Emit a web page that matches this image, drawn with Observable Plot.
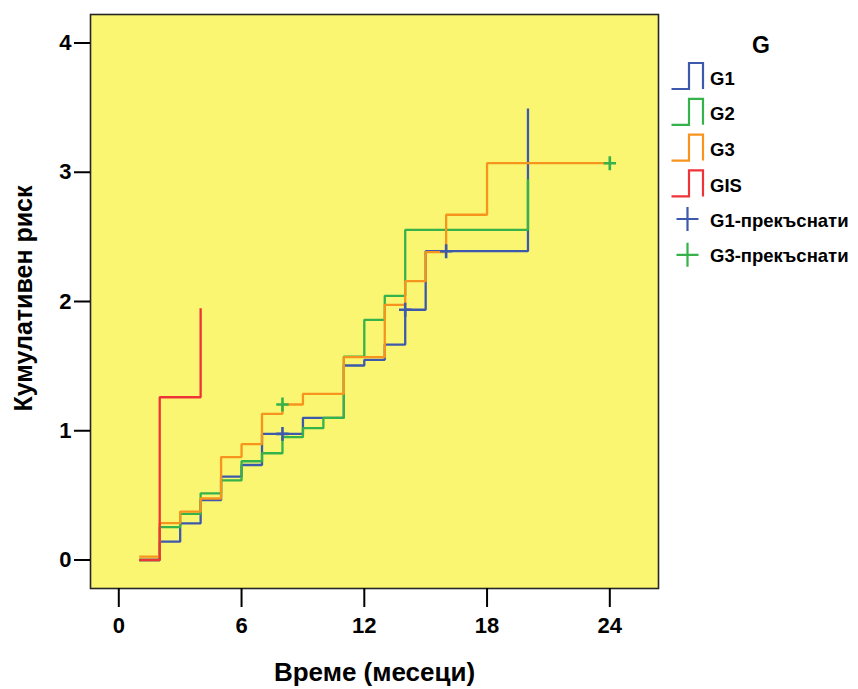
<!DOCTYPE html>
<html>
<head>
<meta charset="utf-8">
<script src="https://cdn.jsdelivr.net/npm/d3@7"></script>
<script src="https://cdn.jsdelivr.net/npm/@observablehq/plot@0.6"></script>
<style>
  html, body { margin: 0; padding: 0; background: #ffffff; }
  #chart { position: relative; width: 858px; height: 689px; }
  #chart svg { position: absolute; left: 0; top: 0; }
  text { font-family: "Liberation Sans", Arial, Helvetica, sans-serif; font-weight: bold; }
</style>
</head>
<body>
<div id="chart"></div>
<script>
// Cumulative hazard by group (months -> cumulative risk), step functions
const g1Month = [1, 2, 3, 4, 5, 6, 7, 9, 11, 12, 13, 14, 15, 20];
const g1Risk  = [0, 0.142, 0.284, 0.464, 0.645, 0.735, 0.976, 1.100, 1.505, 1.549, 1.667, 1.936, 2.389, 3.493];

const g2Month = [1, 2, 3, 4, 5, 6, 7, 8, 9, 10, 11, 12, 13, 14, 20];
const g2Risk  = [0, 0.254, 0.357, 0.516, 0.616, 0.764, 0.826, 0.950, 1.020, 1.100, 1.574, 1.858, 2.044, 2.554, 2.946];

const g3Month = [1, 2, 3, 4, 5, 6, 7, 8, 9, 11, 13, 14, 15, 16, 18, 24];
const g3Risk  = [0.026, 0.286, 0.375, 0.476, 0.796, 0.896, 1.131, 1.203, 1.286, 1.569, 1.974, 2.157, 2.382, 2.671, 3.070, 3.070];

const gisMonth = [1, 2, 4];
const gisRisk  = [0, 1.259, 1.947];

// Censored observations
const g1CensorMonth = [8, 14, 16];
const g1CensorRisk  = [0.976, 1.936, 2.389];
const g3CensorMonth = [8, 24];
const g3CensorRisk  = [1.203, 3.070];

// Groups, legend text and axis labels
const groups = ["G1", "G2", "G3", "GIS"];
const groupColors = ["#3d59ab", "#35b24a", "#f7941e", "#ee3439"];
const censorLabels = ["G1-прекъснати", "G3-прекъснати"];
const censorColors = ["#3d59ab", "#35b24a"];
const legendTitle = "G";
const xTicks = [0, 6, 12, 18, 24];
const yTicks = [0, 1, 2, 3, 4];
const xTitle = "Време (месеци)";
const yTitle = "Кумулативен риск";

const toRows = (months, risks) => months.map((m, i) => ({month: m, risk: risks[i]}));
const series = [
  toRows(g1Month, g1Risk),
  toRows(g2Month, g2Risk),
  toRows(g3Month, g3Risk),
  toRows(gisMonth, gisRisk)
];
const censored = [
  toRows(g1CensorMonth, g1CensorRisk),
  toRows(g3CensorMonth, g3CensorRisk)
];

// A plus sign drawn as two strokes (a d3 symbol type)
const plusSymbol = {
  draw(context, size) {
    const h = Math.sqrt(size / Math.PI);
    context.moveTo(-h, 0);
    context.lineTo(h, 0);
    context.moveTo(0, -h * 1.12);
    context.lineTo(0, h * 1.12);
  }
};

const plot = Plot.plot({
  width: 858,
  height: 689,
  marginLeft: 90,
  marginRight: 200,
  marginTop: 14,
  marginBottom: 101,
  style: {background: "transparent", fontFamily: "Liberation Sans, Arial, sans-serif"},
  x: {domain: [-1.383, 26.38]},
  y: {domain: [-0.2205, 4.2205]},
  marks: [
    Plot.frame({fill: "#faf672", stroke: "#262626", strokeWidth: 1.6}),
    Plot.axisX({ticks: xTicks, tickFormat: d3.format("d"), tickSize: 19, tickPadding: 10, fontSize: 22, fontWeight: "bold", strokeWidth: 2, label: null, color: "#000"}),
    Plot.axisY({ticks: yTicks, tickFormat: d3.format("d"), tickSize: 16, tickPadding: 3, fontSize: 22, fontWeight: "bold", strokeWidth: 2, label: null, color: "#000"}),
    ...series.map((rows, i) => Plot.line(rows, {
      x: "month", y: "risk", curve: "step-after",
      stroke: groupColors[i], strokeWidth: 2.3, strokeLinejoin: "miter", strokeLinecap: "butt"
    })),
    ...censored.map((rows, i) => Plot.dot(rows, {
      x: "month", y: "risk", symbol: plusSymbol, r: 6.2,
      fill: "none", stroke: censorColors[i], strokeWidth: 2.6
    })),
    Plot.text([xTitle], {frameAnchor: "bottom", lineAnchor: "middle", dy: 84, fontSize: 26, fontWeight: "bold", fill: "#000"}),
    Plot.text([yTitle], {frameAnchor: "left", textAnchor: "middle", lineAnchor: "middle", rotate: -90, dx: -67, dy: -3, fontSize: 25, fontWeight: "bold", fill: "#000"})
  ]
});

const chart = document.getElementById("chart");
chart.appendChild(plot);

// Legend on the right
const legend = d3.select(chart).append("svg")
  .attr("width", 858).attr("height", 689)
  .style("pointer-events", "none");

legend.append("text")
  .attr("x", 761).attr("y", 53)
  .attr("text-anchor", "middle")
  .attr("font-size", 23)
  .text(legendTitle);

const rowStep = 35.8;
groups.forEach((g, i) => {
  const yb = 89 + i * rowStep;
  legend.append("path")
    .attr("d", `M671.5,${yb}H689V${yb - 26}H703V${yb}`)
    .attr("fill", "none")
    .attr("stroke", groupColors[i])
    .attr("stroke-width", 2.2);
  legend.append("text")
    .attr("x", 710).attr("y", yb - 4.5)
    .attr("font-size", 18.5)
    .text(g);
});

censorLabels.forEach((label, i) => {
  const cy = 219 + i * rowStep;
  legend.append("path")
    .attr("d", `M676.5,${cy}H698.5M687.5,${cy - 12}V${cy + 12}`)
    .attr("fill", "none")
    .attr("stroke", censorColors[i])
    .attr("stroke-width", 2.2);
  legend.append("text")
    .attr("x", 710).attr("y", cy + 7.5)
    .attr("font-size", 18.5)
    .text(label);
});
</script>
</body>
</html>
